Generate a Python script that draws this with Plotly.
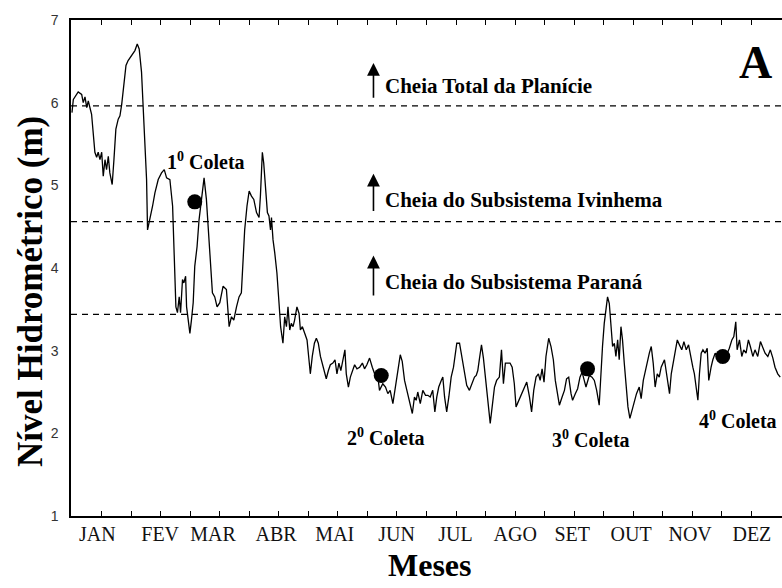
import plotly.graph_objects as go

# Daily river level (m) across the year, day-of-year on x
dias = [
    0, 0.7, 3.2, 5.0, 5.8, 6.7, 7.6, 8.4, 10.1, 11.0, 11.8, 12.7, 13.5, 14.4, 15.3, 16.1, 17.0, 17.8,
    18.7, 19.5, 20.7, 21.6, 22.6, 23.8, 24.7, 25.6, 26.4, 27.8, 28.9, 30.7, 32.4, 33.6, 34.6, 35.8,
    36.7, 37.5, 38.4, 38.9, 40.1, 41.5, 42.7, 44.4, 46.1, 47.5, 48.7, 50.4, 51.8, 52.6, 53.5, 54.3,
    55.2, 55.9, 56.9, 57.6, 58.5, 59.0, 59.8, 60.7, 61.5, 62.4, 63.2, 64.4, 65.4, 66.7, 68.0, 69.2,
    70.1, 71.3, 72.3, 73.5, 74.7,
    76.1, 77.8, 79.5, 80.9, 82.1, 83.3, 84.7, 86.0, 87.2, 88.1, 88.9, 90.1, 91.2, 92.4, 93.6, 95.0,
    96.3, 97.0, 97.5, 98.0, 98.7, 99.7, 100.6, 101.4, 102.2, 102.7, 103.5, 104.4, 105.5, 106.6,
    107.4, 108.6, 109.5, 110.4, 111.2, 112.1, 112.9, 113.8, 114.6, 115.8, 116.9, 117.6, 118.6,
    119.8, 121.0, 122.0, 122.7, 123.7, 124.8, 125.8, 126.8, 127.9, 128.9, 129.9, 130.9, 132.0,
    133.0, 134.3, 135.4, 136.4, 137.4, 138.4, 139.5, 140.5, 141.2, 142.3, 143.3, 144.3, 145.5,
    146.7, 148.1, 149.5, 150.6, 151.8,
    153.2, 154.6, 155.8, 157.5, 158.3, 160.0, 161.4, 162.6, 163.8, 165.2, 166.6, 167.8, 169.0,
    170.0, 171.2, 172.4, 173.8, 175.2, 176.3, 177.2, 178.0, 179.3, 180.6, 182.0, 183.2, 184.4,
    185.7, 186.8, 187.8, 188.8, 190.1, 190.9, 191.8, 192.9, 194.0, 195.2, 196.4, 197.4, 198.1,
    199.5, 200.9, 202.0, 203.2, 204.6, 206.0, 207.2, 208.1, 208.9, 209.8, 210.8, 211.8, 212.8,
    214.0, 215.3, 216.3, 217.5, 218.6, 220.0, 221.1, 222.1, 223.1, 224.3, 225.5, 226.6, 227.7,
    228.6, 230.0,
    231.7, 232.9, 234.1, 235.5, 236.6, 237.7, 238.9, 240.1, 241.0, 242.0, 243.0, 244.0, 245.4,
    246.6, 247.8, 248.8, 250.0, 250.9, 252.3, 253.5, 254.6, 255.7, 256.9, 257.7, 259.1, 260.3,
    261.5, 262.6, 263.7, 264.6, 266.3, 267.7, 268.9, 270.1, 271.4, 272.3, 273.1, 274.0, 274.9,
    275.7, 276.6, 277.5, 278.3, 279.2, 280.0, 280.9, 281.7, 282.6, 283.4, 284.3, 285.2, 286.2,
    287.2, 288.3, 289.4, 290.6, 292.0, 293.0, 294.1, 295.1, 296.3, 297.2, 298.2, 299.2, 300.2,
    301.3, 302.3,
    303.3, 305.0, 306.4, 307.6, 308.5, 310.2, 311.6, 312.7, 313.9, 315.0, 316.2, 317.4, 318.4,
    319.6, 320.4, 321.3, 322.2, 323.0, 323.9, 324.8, 325.9, 327.0, 327.8, 329.0, 329.9, 331.1,
    332.1, 333.8, 335.6, 337.3, 338.4, 339.7, 340.7, 341.7, 342.4, 343.6, 344.8, 345.8, 347.0,
    348.2, 349.2, 350.5, 351.6, 353.0, 354.4, 355.6, 356.8, 358.2, 359.5, 360.8, 361.9, 363.3,
    364.6,
]
nivel = [
    5.88, 6.04, 6.13, 6.10, 6.00, 6.07, 5.94, 6.02, 5.86, 5.64, 5.40, 5.34, 5.40, 5.31, 5.40, 5.11, 5.31, 5.19,
    5.35, 5.15, 5.01, 5.31, 5.68, 5.80, 5.84, 5.98, 6.13, 6.45, 6.51, 6.57, 6.63, 6.71, 6.65, 6.37,
    5.92, 5.47, 5.07, 4.46, 4.58, 4.75, 4.91, 5.07, 5.15, 5.19, 5.09, 5.07, 4.75, 4.02, 3.53, 3.46,
    3.65, 3.46, 3.86, 3.82, 3.90, 3.53, 3.37, 3.21, 3.37, 3.58, 4.02, 4.26, 4.58, 4.87, 5.09, 4.83,
    4.50, 4.10, 3.70, 3.65, 3.53,
    3.58, 3.78, 3.74, 3.29, 3.41, 3.37, 3.53, 3.65, 3.70, 4.06, 4.46, 4.75, 4.93, 4.87, 4.83, 4.67,
    4.61, 4.87, 5.23, 5.40, 5.27, 4.99, 4.67, 4.63, 4.46, 4.61, 4.34, 4.18, 3.94, 3.57,
    3.29, 3.09, 3.41, 3.29, 3.53, 3.25, 3.33, 3.29, 3.37, 3.53, 3.45, 3.25, 3.29,
    3.21, 3.13, 2.89, 2.72, 2.93, 3.09, 3.15, 3.09, 2.93, 2.85, 2.76, 2.66, 2.76,
    2.83, 2.85, 2.89, 2.72, 2.85, 2.76, 2.89, 3.01, 2.72, 2.56, 2.68, 2.76, 2.83,
    2.78, 2.80, 2.85, 2.78, 2.83,
    2.91, 2.80, 2.72, 2.68, 2.52, 2.60, 2.56, 2.48, 2.52, 2.36, 2.60, 2.80, 2.95,
    2.87, 2.64, 2.52, 2.36, 2.24, 2.44, 2.40, 2.50, 2.36, 2.52, 2.46, 2.46, 2.44,
    2.52, 2.26, 2.44, 2.56, 2.64, 2.68, 2.44, 2.26, 2.44, 2.68, 2.80, 2.97, 3.09,
    3.09, 2.91, 2.72, 2.58, 2.52, 2.60, 2.68, 2.70, 2.76, 2.91, 3.07, 2.91, 2.66,
    2.40, 2.12, 2.32, 2.56, 2.64, 2.68, 3.01, 2.60, 2.85, 2.85, 2.85, 2.80, 2.60,
    2.32, 2.40,
    2.48, 2.56, 2.62, 2.44, 2.26, 2.52, 2.68, 2.72, 2.64, 2.78, 2.62, 2.93, 3.15,
    3.05, 2.89, 2.64, 2.44, 2.34, 2.44, 2.52, 2.66, 2.68, 2.48, 2.40, 2.48, 2.54,
    2.68, 2.74, 2.64, 2.56, 2.70, 2.68, 2.64, 2.52, 2.34, 2.76, 3.05, 3.33, 3.53,
    3.65, 3.57, 3.25, 3.05, 3.09, 2.93, 3.13, 2.89, 3.29, 3.13, 2.85, 2.56, 2.32,
    2.18, 2.28, 2.40, 2.48, 2.56, 2.42, 2.64, 2.76, 2.89, 2.97, 3.05, 2.85, 2.56,
    2.72, 2.68,
    2.80, 2.89, 2.64, 2.48, 2.72, 2.93, 3.13, 3.07, 3.01, 3.11, 3.01, 3.07, 2.93,
    2.80, 2.72, 2.56, 2.40, 2.72, 2.97, 3.01, 2.97, 3.03, 2.64, 2.80, 2.89, 2.97,
    2.93, 2.85, 2.93, 2.97, 3.03, 3.13, 3.17, 3.35, 3.01, 3.13, 2.93, 3.01, 2.97,
    3.13, 3.05, 2.93, 3.01, 2.93, 3.11, 3.05, 2.97, 2.93, 3.01, 2.91, 2.80, 2.72,
    2.68,
]

# Sampling campaigns
coleta_dia = [63.2, 159.2, 265.4, 335.0]
coleta_nivel = [4.80, 2.70, 2.78, 2.93]
coleta_rotulo = ["1<sup>0</sup> Coleta", "2<sup>0</sup> Coleta", "3<sup>0</sup> Coleta", "4<sup>0</sup> Coleta"]
coleta_rotulo_dia = [68.9, 161.9, 267.3, 342.8]
coleta_rotulo_nivel = [5.30, 1.96, 1.93, 2.16]

# Flood thresholds
cota_cheia = [5.96, 4.56, 3.44]
cheia_rotulo = ["Cheia Total da Planície", "Cheia do Subsistema Ivinhema", "Cheia do Subsistema Paraná"]
cheia_rotulo_nivel = [6.20, 4.82, 3.83]
seta_dia = 155.2
seta_ponta = [6.48, 5.14, 4.15]
seta_base = [6.04, 4.67, 3.65]
rotulo_cheia_dia = 159.9

# Month labels (mid-month) and half-month tick marks
meses = ["JAN", "FEV", "MAR", "ABR", "MAI", "JUN", "JUL", "AGO", "SET", "OUT", "NOV", "DEZ"]
meses_pos = [13.0, 45.4, 72.6, 105.1, 135.3, 167.1, 197.4, 228.2, 257.5, 287.8, 318.2, 350.0]
marcas_x = [k * 365 / 24 for k in range(25)]
y_ticks = [1, 2, 3, 4, 5, 6, 7]

SERIF = "Liberation Serif, Times New Roman, serif"
SANS = "Liberation Sans, Arial, sans-serif"
X_RANGE = [-0.5, 365.5]

fig = go.Figure()

fig.add_trace(go.Scatter(
    x=dias, y=nivel, mode="lines", xaxis="x", yaxis="y",
    line=dict(color="black", width=1.3),
    showlegend=False, hoverinfo="skip",
))
# campaign markers live on the month-label axis (same range/domain as x)
fig.add_trace(go.Scatter(
    x=coleta_dia, y=coleta_nivel, mode="markers", xaxis="x2", yaxis="y",
    marker=dict(color="black", size=15),
    showlegend=False,
))

for c in cota_cheia:
    fig.add_shape(type="line", xref="x", yref="y", x0=X_RANGE[0], x1=X_RANGE[1], y0=c, y1=c,
                  line=dict(color="black", width=1.3, dash="6px,5px"))

annotations = []
for t, xd, yd in zip(coleta_rotulo, coleta_rotulo_dia, coleta_rotulo_nivel):
    annotations.append(dict(x=xd, y=yd, xref="x", yref="y", text=f"<b>{t}</b>",
                            xanchor="center", yanchor="middle", showarrow=False,
                            font=dict(family=SERIF, size=20, color="black")))

for t, yd in zip(cheia_rotulo, cheia_rotulo_nivel):
    annotations.append(dict(x=rotulo_cheia_dia, y=yd, xref="x", yref="y", text=f"<b>{t}</b>",
                            xanchor="left", yanchor="middle", showarrow=False,
                            font=dict(family=SERIF, size=21, color="black")))

for p, b in zip(seta_ponta, seta_base):
    annotations.append(dict(x=seta_dia, y=p, ax=seta_dia, ay=b, xref="x", yref="y",
                            axref="x", ayref="y", text="", showarrow=True,
                            arrowhead=2, arrowsize=1.6, arrowwidth=1.6, arrowcolor="black"))

annotations.append(dict(x=0.9634, y=0.914, xref="paper", yref="paper", text="<b>A</b>",
                        xanchor="center", yanchor="middle", showarrow=False,
                        font=dict(family=SERIF, size=46, color="black")))
annotations.append(dict(x=-0.0577, y=0.4536, xref="paper", yref="paper",
                        text="<b>Nível Hidrométrico (m)</b>", textangle=-90, showarrow=False,
                        xanchor="center", yanchor="middle",
                        font=dict(family=SERIF, size=35, color="black")))
annotations.append(dict(x=0.505, y=-0.0988, xref="paper", yref="paper", text="<b>Meses</b>",
                        xanchor="center", yanchor="middle", showarrow=False,
                        font=dict(family=SERIF, size=32, color="black")))

fig.update_layout(
    width=782, height=588, autosize=False,
    margin=dict(l=71, r=0, t=20, b=72),
    paper_bgcolor="white", plot_bgcolor="white",
    annotations=annotations,
    xaxis=dict(
        range=X_RANGE, showgrid=False, zeroline=False,
        showline=True, linecolor="black", linewidth=1.5, mirror="ticks",
        tickmode="array", tickvals=marcas_x, ticks="inside",
        ticklen=5, tickwidth=1.3, tickcolor="black",
        showticklabels=False,
    ),
    xaxis2=dict(
        range=X_RANGE, matches="x", overlaying="x", side="bottom",
        showgrid=False, zeroline=False, showline=False,
        tickmode="array", tickvals=meses_pos, ticktext=meses, ticks="",
        tickfont=dict(family=SERIF, size=20, color="#111"),
        ticklabelstandoff=4,
    ),
    yaxis=dict(
        range=[1, 7], showgrid=False, zeroline=False,
        showline=True, linecolor="black", linewidth=1.5,
        tickmode="array", tickvals=y_ticks, ticks="",
        tickfont=dict(family=SANS, size=14, color="#333"),
        ticklabelstandoff=8,
    ),
)

fig.write_html("out.html")
